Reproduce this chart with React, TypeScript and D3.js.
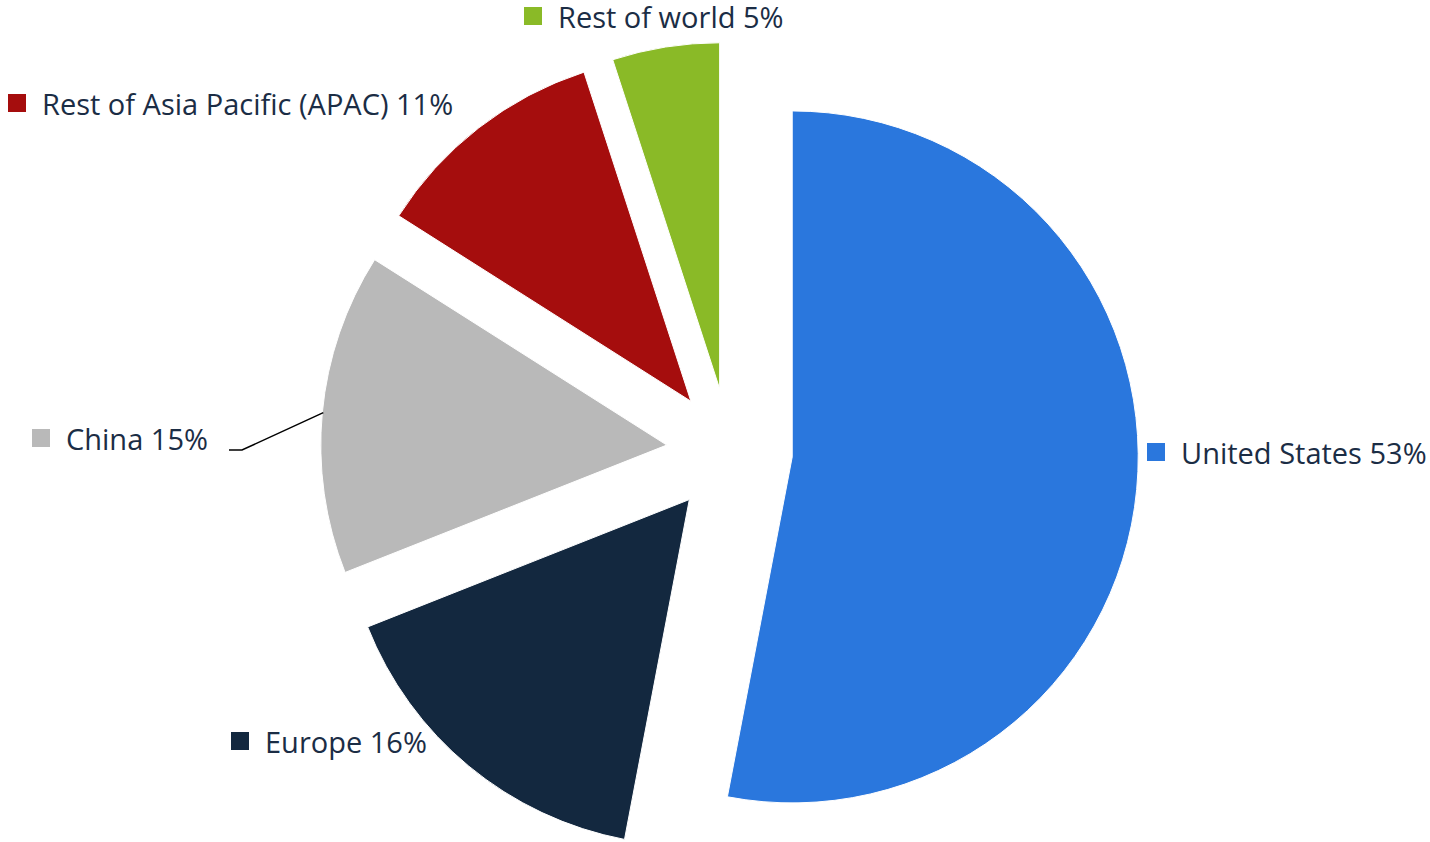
import React from 'react';
import * as d3 from 'd3';

// revenue share by region
const regions = ['United States', 'Europe', 'China', 'Rest of Asia Pacific (APAC)', 'Rest of world'];
const shares = [53, 16, 15, 11, 5];
const colors = ['#2a77dd', '#13283f', '#b9b9b9', '#a50d0d', '#8aba27'];

// where each label (marker square, left edge / vertical centre) sits
const labelLayout = [
  { x: 1147, y: 452 },
  { x: 231, y: 741 },
  { x: 32, y: 438 },
  { x: 8, y: 103 },
  { x: 524, y: 16 },
];

const W = 1430;
const H = 842;
const cx = 729.5;
const cy = 451;
const R = 346;
const explode = 63;

const App = () => {
  const pie = d3.pie<number>().sort(null).startAngle(0).endAngle(2 * Math.PI);
  const arcs = pie(shares);
  const arc = d3.arc<d3.PieArcDatum<number>>().innerRadius(0).outerRadius(R);

  return (
    <svg
      width={W}
      height={H}
      style={{ position: 'absolute', left: 0, top: 0, fontFamily: '"Open Sans", sans-serif' }}
    >
      <g transform={`translate(${cx},${cy})`}>
        {arcs.map((a, i) => {
          const mid = (a.startAngle + a.endAngle) / 2;
          const dx = Math.sin(mid) * explode;
          const dy = -Math.cos(mid) * explode;
          return (
            <path
              key={regions[i]}
              d={arc(a) || ''}
              transform={`translate(${dx},${dy})`}
              fill={colors[i]}
              stroke="#fff"
              strokeWidth={1}
            />
          );
        })}
      </g>
      {(() => {
        // connector for China label, from the slice edge along its bisector
        const a = arcs[2];
        const mid = (a.startAngle + a.endAngle) / 2;
        const ex = cx + Math.sin(mid) * (explode + R - 1);
        const ey = cy - Math.cos(mid) * (explode + R - 1);
        const lx = 229;
        const ly = labelLayout[2].y + 12;
        return (
          <polyline
            points={`${lx},${ly} ${lx + 13},${ly} ${ex},${ey}`}
            fill="none"
            stroke="#000"
            strokeWidth={1.5}
          />
        );
      })()}
      {regions.map((r, i) => {
        const p = labelLayout[i];
        return (
          <g key={r} transform={`translate(${p.x},${p.y})`}>
            <rect x={0} y={-9} width={18} height={18} fill={colors[i]} />
            <text x={34} y={11.5} fontSize={29} fill="#1b2d45">
              {`${r} ${shares[i]}%`}
            </text>
          </g>
        );
      })}
    </svg>
  );
};

export default App;
